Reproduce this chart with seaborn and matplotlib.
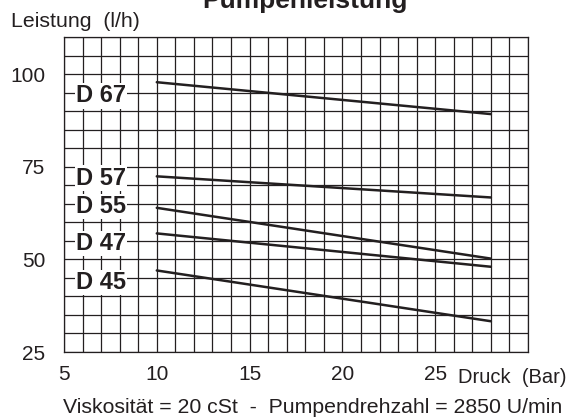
import matplotlib
matplotlib.use("Agg")
import matplotlib.pyplot as plt
import seaborn as sns
import pandas as pd
import numpy as np

# ---- data ----
models = ["D 67", "D 57", "D 55", "D 47", "D 45"]
pressure = [10, 28]                      # Druck (Bar)
flow_start = [97.8, 72.4, 63.9, 57.0, 47.0]   # Leistung at 10 bar (l/h)
flow_end = [89.2, 66.7, 50.2, 48.0, 33.3]     # Leistung at 28 bar (l/h)
x_ticks = [5, 10, 15, 20, 25]
y_ticks = [25, 50, 75, 100]

# label positions (y in data units)
label_y = [94.8, 72.6, 64.9, 54.9, 44.5]

rows = []
for m, s, e in zip(models, flow_start, flow_end):
    rows.append({"model": m, "Druck": pressure[0], "Leistung": s})
    rows.append({"model": m, "Druck": pressure[1], "Leistung": e})
df = pd.DataFrame(rows)

sns.set_theme(style="white")
plt.rcParams['font.family'] = ['Liberation Sans', 'DejaVu Sans']

ink = "#231f20"
fig = plt.figure(figsize=(5.72, 4.2), dpi=100)
ax = fig.add_axes([64/572, 1-352/420, (528-64)/572, (352-37)/420])

ax.set_xlim(5, 30)
ax.set_ylim(25, 110)

# full grid: one line per bar and per 5 l/h
for gx in np.arange(5, 31, 1):
    ax.axvline(gx, color=ink, linewidth=0.9, zorder=1)
for gy in np.arange(25, 111, 5):
    ax.axhline(gy, color=ink, linewidth=0.9, zorder=1)

sns.lineplot(data=df, x="Druck", y="Leistung", hue="model",
             palette=[ink]*len(models), linewidth=1.8, legend=False, ax=ax,
             zorder=3)

ax.set_xticks(x_ticks)
ax.set_yticks(y_ticks)
ax.tick_params(axis="both", which="major", length=6.5, width=0.9, color=ink,
               labelsize=15, labelcolor=ink, direction="out")
ax.tick_params(axis="x", which="major", pad=3)
ax.tick_params(axis="y", which="major", pad=7)
ax.set_xlabel("")
ax.set_ylabel("")
for sp in ax.spines.values():
    sp.set_color(ink)
    sp.set_linewidth(0.9)

for m, y in zip(models, label_y):
    ax.text(7.0, y, m, ha="center", va="center_baseline", fontsize=17,
            fontweight="bold", color=ink, zorder=4,
            bbox=dict(facecolor="white", edgecolor="none", pad=0.8))

fig.text(305/572, 1-8/420, "Pumpenleistung", ha="center", va="baseline",
         fontsize=19, fontweight="bold", color=ink)
fig.text(11/572, 1-27/420, "Leistung  (l/h)", ha="left", va="baseline",
         fontsize=15.3, color=ink)
fig.text(567/572, 1-383/420, "Druck  (Bar)", ha="right", va="baseline",
         fontsize=14.5, color=ink)
fig.text(313/572, 1-413/420,
         "Viskosität = 20 cSt  -  Pumpendrehzahl = 2850 U/min",
         ha="center", va="baseline", fontsize=15.3, color=ink)

fig.savefig("out.png", dpi=100, facecolor="white")
